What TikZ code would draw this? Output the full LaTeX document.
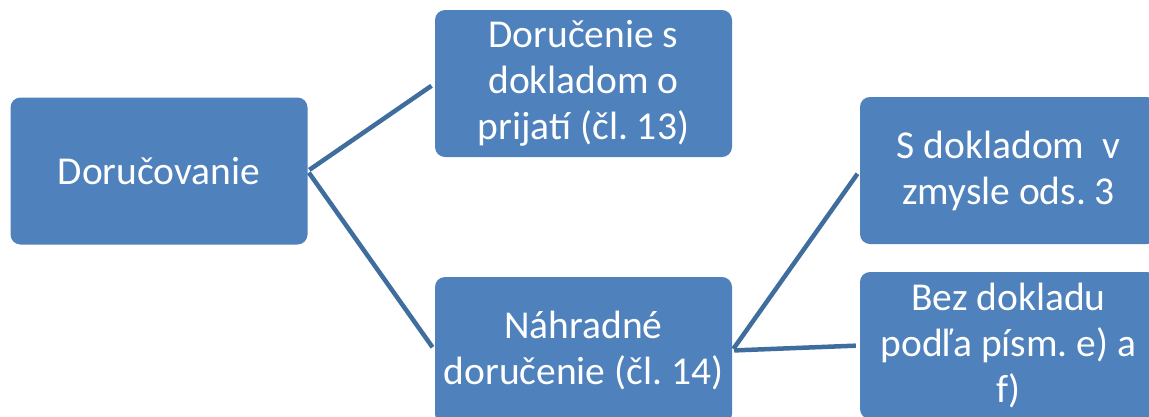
\documentclass[tikz,border=0pt]{standalone}
\usepackage{fontspec}
\setmainfont{Carlito}
\frenchspacing
\definecolor{boxfill}{HTML}{4F81BD}
\definecolor{linecol}{HTML}{3F6D9E}
\begin{document}
\begin{tikzpicture}[x=1pt,y=-1pt,
  box/.style={draw=none, fill=boxfill, rounded corners=10pt, minimum width=297pt, minimum height=147pt,
    inner sep=0pt, text=white, align=center, font=\fontsize{39.5}{46}\selectfont\frenchspacing},
  conn/.style={draw=linecol, line width=4.5pt, shorten <=2pt, shorten >=4pt}]
\useasboundingbox (0,0) rectangle (1149,416);
\clip (0,0) rectangle (1149,416);
\node[box] (d) at (159,171) {Doručovanie};
\node[box] (t) at (583.5,83.5) {Doručenie s\\dokladom o\\prijatí (čl. 13)};
\node[box] (b) at (583.5,350.5) {Náhradné\\doručenie (čl. 14)};
\node[box] (rt) at (1008.5,170.5) {S dokladom \ v\\zmysle ods. 3};
\node[box] (rb) at (1008.5,345.5) {Bez dokladu\\podľa písm. e) a\\f)};
\draw[conn] (d.east) -- (t.west);
\draw[conn] (d.east) -- (b.west);
\draw[conn] (b.east) -- (rt.west);
\draw[conn] (b.east) -- (rb.west);
\end{tikzpicture}
\end{document}
